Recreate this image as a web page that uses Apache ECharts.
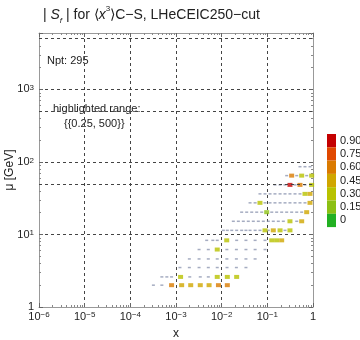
<!DOCTYPE html>
<html>
<head>
<meta charset="utf-8">
<script src="https://cdn.jsdelivr.net/npm/echarts@6/dist/echarts.min.js"></script>
<style>
  html, body { margin: 0; padding: 0; background: #fff; }
  #chart { width: 360px; height: 340px; }
</style>
</head>
<body>
<div id="chart"></div>
<script>
// scale rows (mu in GeV)
const muRows = [2.0, 2.6, 3.5, 4.6, 6.2, 8.3, 11.4, 15.2, 20.3, 27.3, 36.3, 48.3, 64.8, 86];

// x positions of the points on each mu row
const xRows = [
  [3.2e-4, 4.9e-4, 8.0e-4, 1.33e-3, 2.1e-3, 3.4e-3, 5.3e-3, 8.5e-3, 1.33e-2],
  [4.9e-4, 6.3e-4, 8.0e-4, 1.26e-3, 2.0e-3, 3.4e-3, 5.1e-3, 8.0e-3, 1.33e-2, 2.13e-2],
  [1.22e-3, 1.96e-3, 3.2e-3, 5.1e-3, 8.0e-3, 1.31e-2, 2.1e-2, 3.4e-2],
  [1.96e-3, 3.2e-3, 5.1e-3, 8.0e-3, 1.3e-2, 2.1e-2, 3.4e-2, 5.4e-2],
  [3.2e-3, 5.1e-3, 8.0e-3, 1.3e-2, 2.1e-2, 3.4e-2, 5.4e-2, 8.9e-2],
  [4.7e-3, 6.4e-3, 8.0e-3, 1.29e-2, 2.13e-2, 3.4e-2, 5.4e-2, 8.9e-2, 0.125, 0.16, 0.206],
  [0.0109, 0.0133, 0.0166, 0.0213, 0.0274, 0.034, 0.0418, 0.054, 0.069, 0.089, 0.105, 0.135, 0.19, 0.244, 0.313],
  [0.018, 0.0232, 0.0298, 0.0383, 0.0493, 0.0635, 0.0817, 0.105, 0.135, 0.174, 0.224, 0.313, 0.44, 0.565],
  [0.0274, 0.0353, 0.0455, 0.0585, 0.0753, 0.0968, 0.125, 0.16, 0.206, 0.265, 0.341, 0.44, 0.565, 0.727],
  [0.0418, 0.054, 0.069, 0.089, 0.1145, 0.147, 0.19, 0.244, 0.313, 0.404, 0.519, 0.668, 0.86],
  [0.069, 0.089, 0.1145, 0.147, 0.19, 0.244, 0.313, 0.404, 0.519, 0.668, 0.86],
  [0.147, 0.19, 0.244, 0.313, 0.404, 0.519, 0.668, 0.935],
  [0.265, 0.341, 0.44, 0.565, 0.727, 0.935],
  [0.519, 0.668, 0.86]
];

// |S_f| of each point (same layout as xRows)
const sRows = [
  [0.10, 0.12, 0.62, 0.55, 0.55, 0.58, 0.55, 0.66, 0.60],
  [0.10, 0.10, 0.10, 0.35, 0.10, 0.10, 0.10, 0.35, 0.42, 0.42],
  [0.10, 0.10, 0.10, 0.10, 0.10, 0.10, 0.10, 0.10],
  [0.10, 0.10, 0.10, 0.10, 0.10, 0.10, 0.10, 0.10],
  [0.10, 0.10, 0.35, 0.10, 0.10, 0.10, 0.10, 0.10],
  [0.10, 0.10, 0.10, 0.35, 0.10, 0.10, 0.10, 0.10, 0.42, 0.30, 0.45],
  [0.10, 0.10, 0.10, 0.10, 0.10, 0.10, 0.10, 0.10, 0.10, 0.40, 0.10, 0.48, 0.30, 0.10, 0.35],
  [0.10, 0.10, 0.10, 0.10, 0.10, 0.10, 0.10, 0.10, 0.10, 0.10, 0.10, 0.35, 0.10, 0.45],
  [0.10, 0.10, 0.10, 0.10, 0.10, 0.28, 0.10, 0.10, 0.10, 0.10, 0.10, 0.10, 0.10, 0.50],
  [0.10, 0.10, 0.32, 0.10, 0.10, 0.10, 0.10, 0.10, 0.10, 0.10, 0.10, 0.10, 0.50],
  [0.10, 0.10, 0.10, 0.10, 0.10, 0.10, 0.10, 0.10, 0.10, 0.42, 0.55],
  [0.10, 0.10, 0.10, 0.95, 0.10, 0.62, 0.10, 0.35],
  [0.10, 0.70, 0.10, 0.30, 0.10, 0.35],
  [0.10, 0.10, 0.10]
];

// colour bar
const levelLabels = ['0', '0.15', '0.30', '0.45', '0.60', '0.75', '0.90'];
const levelLows = [-Infinity, 0.15, 0.30, 0.45, 0.60, 0.75, 0.90];
const levelColors = ['#22b022', '#8cc014', '#b8c200', '#d0a600', '#da7a00', '#e04800', '#c40000'];

const highlightRange = [0.25, 500];
const nPoints = 295;
const extraGridMu = [50, 500, 5000];

const chart = echarts.init(document.getElementById('chart'));

// split points: highlighted ones get colours, the rest stay grey
const greyPts = [];
const hotPts = [];
muRows.forEach((mu, i) => {
  xRows[i].forEach((x, j) => {
    const s = sRows[i][j];
    if (s >= highlightRange[0] && s <= highlightRange[1]) hotPts.push([x, mu, s]);
    else greyPts.push([x, mu, s]);
  });
});

function powLabel(v) {
  const l = Math.log10(v);
  const e = Math.round(l);
  if (Math.abs(l - e) > 1e-6) return '';
  if (e === 0) return '1';
  return '10{sup|' + (e < 0 ? '\u2212' + (-e) : e) + '}';
}

const font = 'Liberation Sans';
const labelRich = {
  sup: { fontSize: 8, lineHeight: 8, verticalAlign: 'top', color: '#222', fontFamily: font }
};
const dash = { type: [3, 3], color: '#444', width: 1 };
const frameLine = { show: true, lineStyle: { color: '#999', width: 1 } };
const ticks = { show: true, inside: true, length: 4, lineStyle: { color: '#666' } };
const minor = { show: true, splitNumber: 9, length: 2, lineStyle: { color: '#888' } };

const pieces = levelLabels.map((lab, i) => {
  const p = { label: lab, color: levelColors[i] };
  if (i > 0) p.gte = levelLows[i];
  if (i < levelLabels.length - 1) p.lt = levelLows[i + 1];
  return p;
});

const option = {
  animation: false,
  textStyle: { fontFamily: font },
  title: {
    left: 38,
    top: 0,
    text: '| {i|S}{sub|f} | for \u27e8{i|x}{sup|3}\u27e9C\u2212S, LHeCEIC250\u2212cut',
    textStyle: {
      fontSize: 14, fontWeight: 'normal', color: '#222', fontFamily: font, lineHeight: 20,
      rich: {
        i: { fontStyle: 'italic', fontSize: 14, fontFamily: font, color: '#222' },
        sub: { fontStyle: 'italic', fontSize: 8, lineHeight: 8, verticalAlign: 'bottom', fontFamily: font, color: '#222' },
        sup: { fontSize: 8, lineHeight: 8, verticalAlign: 'top', fontFamily: font, color: '#222' }
      }
    }
  },
  grid: { left: 39, right: 47, top: 33, bottom: 33, outerBoundsMode: 'none' },
  xAxis: [
    {
      type: 'log', logBase: 10, min: 1e-6, max: 1,
      name: 'x', nameLocation: 'middle', nameGap: 21,
      nameTextStyle: { fontSize: 12, color: '#222', fontFamily: font },
      axisLine: frameLine, axisTick: ticks, minorTick: minor,
      axisLabel: { formatter: powLabel, margin: 4, fontSize: 11, color: '#222', rich: labelRich },
      splitLine: { show: true, lineStyle: dash }
    },
    {
      type: 'log', logBase: 10, min: 1e-6, max: 1, position: 'top',
      axisLine: frameLine, axisTick: ticks, minorTick: minor,
      axisLabel: { show: false }, splitLine: { show: false }
    }
  ],
  yAxis: [
    {
      type: 'log', logBase: 10, min: 1, max: 6000,
      name: '\u03bc [GeV]', nameLocation: 'middle', nameGap: 23, nameMoveOverlap: false,
      nameTextStyle: { fontSize: 12, color: '#222', fontFamily: font },
      axisLine: frameLine, axisTick: ticks, minorTick: minor,
      axisLabel: { formatter: powLabel, margin: 5, fontSize: 11, color: '#222', rich: labelRich },
      splitLine: { show: true, lineStyle: dash }
    },
    {
      type: 'log', logBase: 10, min: 1, max: 6000, position: 'right',
      axisLine: frameLine, axisTick: ticks, minorTick: minor,
      axisLabel: { show: false }, splitLine: { show: false }
    }
  ],
  visualMap: {
    type: 'piecewise',
    seriesIndex: 1,
    dimension: 2,
    orient: 'vertical',
    align: 'left',
    left: 327,
    top: 134,
    padding: 0,
    itemWidth: 9,
    itemHeight: 13.3,
    itemGap: 0,
    itemSymbol: 'rect',
    textGap: 4,
    selectedMode: false,
    textStyle: { fontSize: 11, color: '#222', fontFamily: font },
    pieces: pieces
  },
  graphic: [
    { type: 'text', left: 47, top: 55, style: { text: 'Npt: ' + nPoints, fontSize: 11, fill: '#222', fontFamily: font } },
    { type: 'text', left: 53, top: 103, style: { text: 'highlighted range:', fontSize: 11, fill: '#222', fontFamily: font } },
    { type: 'text', left: 64, top: 118, style: { text: '{{' + highlightRange.join(', ') + '}}', fontSize: 11, fill: '#222', fontFamily: font } }
  ],
  series: [
    {
      type: 'scatter',
      data: greyPts,
      symbol: 'rect',
      symbolSize: [3, 1.5],
      itemStyle: { color: '#8f97b2' },
      silent: true,
      markLine: {
        silent: true,
        symbol: 'none',
        label: { show: false },
        lineStyle: dash,
        data: extraGridMu.map(v => ({ yAxis: v }))
      }
    },
    {
      type: 'scatter',
      data: hotPts,
      symbol: 'rect',
      symbolSize: [5, 4],
      silent: true,
      z: 3
    }
  ]
};

chart.setOption(option);
</script>
</body>
</html>
